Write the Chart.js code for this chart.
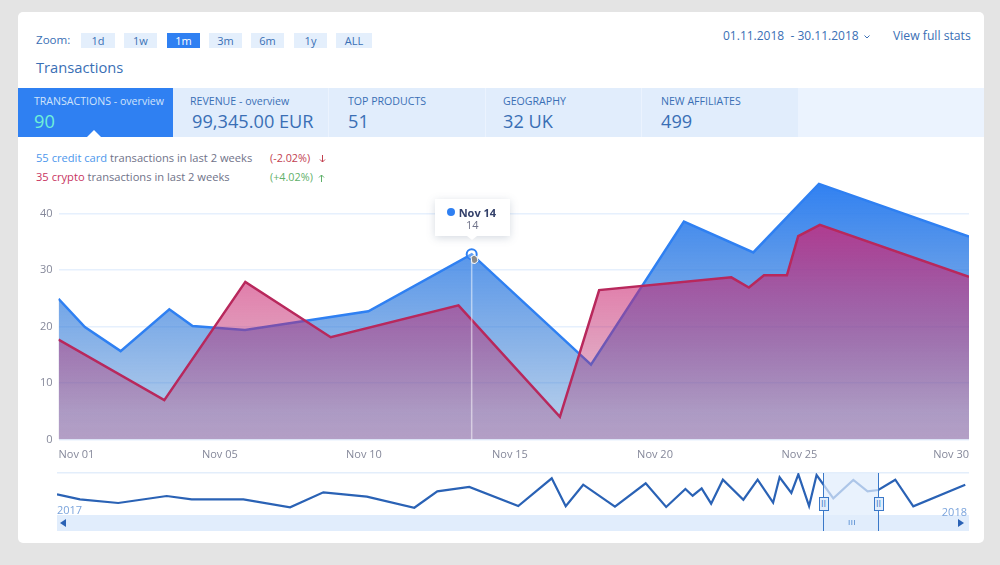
<!DOCTYPE html>
<html>
<head>
<title>Transactions</title>
<script src="https://cdn.jsdelivr.net/npm/chart.js"></script>
<style>
    html, body { margin: 0; padding: 0; background: #e4e4e4; overflow: hidden; }
    body { width: 1000px; height: 565px; position: relative; font-family: "Open Sans", sans-serif; color: #3a6fb5; }
    #card { position: absolute; left: 18px; top: 12px; width: 966px; height: 531px; background: #fff; border-radius: 5px; }
    canvas { position: absolute; }
    .t { position: absolute; white-space: nowrap; line-height: 1; transform: translateY(-50%); }
    .btn { position: absolute; top: 33px; height: 15px; line-height: 15px; background: #e4effc; text-align: center; font-size: 11px; color: #3a6fb5; }
    .btn.on { background: #2f80f2; color: #fff; }
    .tab { position: absolute; top: 88px; height: 49px; background: #e1edfc; }
    .box { position: absolute; box-sizing: border-box; }
</style>
</head>
<body>
<div id="card"></div>
<div id="top"></div>

<div class="t" style="left:36px;top:40px;font-size:11.6px">Zoom:</div>
<div class="t" style="left:36px;top:67px;font-size:14.7px">Transactions</div>
<div class="t" style="left:723px;top:36px;font-size:12px">01.11.2018 &nbsp;- 30.11.2018</div>
<svg class="box" style="left:864px;top:35px" width="6" height="4"><path d="M.5 .5 L3 3 L5.500 .5" fill="none" stroke="#3a6fb5" stroke-width="1"/></svg>
<div class="t" style="left:893px;top:36px;font-size:12.2px">View full stats</div>

<div class="box" style="left:18px;top:88px;width:966px;height:49px;background:#ebf3fe"></div>
<div id="tabs"></div>
<div class="box" style="left:87px;top:130px;width:0;height:0;border-left:7px solid transparent;border-right:7px solid transparent;border-bottom:7px solid #fff"></div>

<div class="t" style="left:36px;top:158px;font-size:11.15px;color:#6f7288"><span style="color:#4d97ec">55 credit card</span> transactions in last 2 weeks</div>
<div class="t" style="left:36px;top:177px;font-size:11.15px;color:#6f7288"><span style="color:#c8355f">35 crypto</span> transactions in last 2 weeks</div>
<div class="t" style="left:270px;top:158px;font-size:10.8px;color:#c2404f">(-2.02%)</div>
<svg class="box" style="left:319px;top:155px" width="7" height="8"><path d="M3.500 0 V7 M1 4.500 L3.500 7 L6 4.500" fill="none" stroke="#c2404f" stroke-width="1"/></svg>
<div class="t" style="left:270px;top:177px;font-size:10.8px;color:#5fb06a">(+4.02%)</div>
<svg class="box" style="left:318px;top:174px" width="7" height="8"><path d="M3.500 8 V1 M1 3.500 L3.500 1 L6 3.500" fill="none" stroke="#5fb06a" stroke-width="1"/></svg>

<canvas id="mainChart" width="966" height="303" style="left:18px;top:167px;width:966px;height:303px"></canvas>
<canvas id="overviewChart" width="966" height="70" style="left:18px;top:465px;width:966px;height:70px"></canvas>

<!-- tooltip -->
<div id="tip" class="box" style="width:75px;height:37px;background:#fff;box-shadow:0 2px 8px rgba(90,110,140,.25)">
    <div class="box" style="left:12px;top:9px;width:8px;height:8px;border-radius:50%;background:#2f80f2"></div>
    <div class="t" style="left:24px;top:13px;font-size:11px;font-weight:700;color:#33406a">Nov 14</div>
    <div class="t" style="left:0;width:75px;text-align:center;top:25px;font-size:11px;color:#6f7288">14</div>
    <div class="box" style="left:32px;top:37px;width:0;height:0;border-left:5px solid transparent;border-right:5px solid transparent;border-top:4px solid #fff"></div>
</div>
<svg class="box" style="left:469px;top:254px" width="10" height="10"><path d="M2 3 L5 1 L8 3 L9 7 L6 9.500 L3 9 Z" fill="#8a8a8a" stroke="#fff" stroke-width="1"/></svg>

<!-- navigator -->
<div class="box" style="left:57px;top:515px;width:912px;height:16px;background:#e1edfc"></div>
<div class="box" style="left:60px;top:519px;width:0;height:0;border-top:4px solid transparent;border-bottom:4px solid transparent;border-right:6px solid #2a62b5"></div>
<div class="box" style="left:958px;top:519px;width:0;height:0;border-top:4px solid transparent;border-bottom:4px solid transparent;border-left:6px solid #2a62b5"></div>
<div class="t" style="left:57px;top:509px;font-size:11px;color:#7ba4dc">2017</div>
<div class="t" style="right:33px;top:511px;font-size:11px;color:#7ba4dc">2018</div>
<div id="windowBox" class="box" style="top:473px;height:58px;background:rgba(225,237,252,.72);border-left:1px solid #3a78c8;border-right:1px solid #3a78c8"></div>
<div class="t" style="left:848px;top:522px;font-size:8px;color:#3a78c8;letter-spacing:.5px">III</div>
<div id="handleA" class="box" style="top:497px;width:10px;height:14px;background:#e1edfc;border:1px solid #3a78c8;text-align:center;line-height:12px;font-size:9px;color:#3a78c8">II</div>
<div id="handleB" class="box" style="top:497px;width:10px;height:14px;background:#e1edfc;border:1px solid #3a78c8;text-align:center;line-height:12px;font-size:9px;color:#3a78c8">II</div>

<script>
// ----------------- DATA -----------------
const buttons = ['1d', '1w', '1m', '3m', '6m', '1y', 'ALL'];
const buttonLeft = [81, 124, 167, 209, 251, 294, 336];
const buttonWidth = [34, 33, 33, 33, 33, 33, 36];

const tabTitles = ['TRANSACTIONS - overview', 'REVENUE - overview', 'TOP PRODUCTS', 'GEOGRAPHY', 'NEW AFFILIATES'];
const tabValues = ['90', '99,345.00 EUR', '51', '32 UK', '499'];
const tabLeft = [18, 173, 329, 486, 642];
const tabWidth = [154.5, 155, 156, 155, 156];
const tabTitleX = [16, 17, 19, 17, 19];
const tabValueX = [16, 19, 19, 17, 19];

// x values are days of November as placed on the picture's axis
const cardDays = [1, 1.84, 2.98, 4.53, 5.27, 6.94, 10.87, 14.16, 17.96, 20.92, 23.13, 25.22, 30];
const cardValues = [24.9, 19.9, 15.65, 23.05, 20.1, 19.4, 22.7, 32.8, 13.25, 38.55, 33.1, 45.25, 35.9];
const cryptoDays = [1, 4.37, 6.95, 9.67, 13.74, 16.97, 18.22, 22.43, 22.99, 23.47, 24.2, 24.56, 25.25, 30];
const cryptoValues = [17.7, 6.96, 27.9, 18.1, 23.75, 4.0, 26.45, 28.7, 26.9, 29.05, 29.05, 36.0, 38.0, 28.8];

const xTickDays = [1, 6.14, 10.73, 15.38, 20, 24.6, 30];
const xTickLabels = ['Nov 01', 'Nov 05', 'Nov 10', 'Nov 15', 'Nov 20', 'Nov 25', 'Nov 30'];
const yTicks = [0, 10, 20, 30, 40];
const peakIndex = 7;

const overviewDays = [0, 9.2, 24.5, 43.9, 53.9, 74.6, 93.3, 106.6, 124, 143, 152.2, 165, 184.6, 198, 203.6, 210.6, 223.3, 235.6, 243.8, 251.5, 254.4, 258, 261.8, 266.5, 274.7, 280.4, 286.6, 289.2, 293.9, 296.7, 301, 304, 310.7, 318.7, 324.4, 328.7, 335.5, 342.7, 363.5];
const overviewValues = [20.7, 15.7, 12, 19, 15.7, 15.7, 7.7, 22.7, 18.3, 7.3, 23.7, 28, 9, 36.7, 8.7, 30.3, 8.3, 31.7, 8, 26, 19.3, 26.7, 11.3, 35.3, 15.3, 35.3, 12.3, 37.7, 22, 40.7, 9, 40, 16.7, 35, 23.7, 25, 35.3, 8.7, 30.3];
const windowDays = [306.6, 329];

// ----------------- PAGE -----------------
const topBar = document.getElementById('top');
buttons.forEach((b, i) => {
    const el = document.createElement('div');
    el.className = 'btn' + (b === '1m' ? ' on' : '');
    el.style.left = buttonLeft[i] + 'px';
    el.style.width = buttonWidth[i] + 'px';
    el.textContent = b;
    topBar.appendChild(el);
});

const tabs = document.getElementById('tabs');
tabTitles.forEach((title, i) => {
    const active = i === 0;
    const el = document.createElement('div');
    el.className = 'tab';
    el.style.left = tabLeft[i] + 'px';
    el.style.width = tabWidth[i] + 'px';
    if (active) el.style.background = '#2f80f2';
    el.innerHTML =
        `<div class="t" style="left:${tabTitleX[i]}px;top:13px;font-size:10.6px;color:${active ? '#cfe3fb' : '#3a6fb5'}">${title}</div>` +
        `<div class="t" style="left:${tabValueX[i]}px;top:33px;font-size:18.2px;color:${active ? '#6ff0d8' : '#3a6fb5'}">${tabValues[i]}</div>`;
    tabs.appendChild(el);
});

// ----------------- GRADIENTS -----------------
function blueFill(context) {
    const area = context.chart.chartArea;
    if (!area) return 'rgba(47,128,242,.6)';
    const g = context.chart.ctx.createLinearGradient(0, area.top, 0, area.bottom);
    g.addColorStop(0, 'rgba(47,128,242,1)');
    g.addColorStop(0.85, 'rgba(50,120,205,.42)');
    g.addColorStop(1, 'rgba(50,120,205,.35)');
    return g;
}

function redFill(context) {
    const area = context.chart.chartArea;
    if (!area) return 'rgba(215,30,110,.5)';
    const g = context.chart.ctx.createLinearGradient(0, area.top, 0, area.bottom);
    g.addColorStop(0.15, 'rgba(215,30,110,.75)');
    g.addColorStop(0.45, 'rgba(200,35,110,.55)');
    g.addColorStop(0.9, 'rgba(170,40,100,.29)');
    g.addColorStop(1, 'rgba(170,40,100,.29)');
    return g;
}

// vertical line under the hovered point
const crosshair = {
    id: 'crosshair',
    afterDatasetsDraw(chart) {
        const { ctx, scales } = chart;
        const x = scales.x.getPixelForValue(cardDays[peakIndex]);
        ctx.save();
        ctx.strokeStyle = 'rgba(255,255,255,.5)';
        ctx.lineWidth = 1.5;
        ctx.beginPath();
        ctx.moveTo(x, scales.y.getPixelForValue(cardValues[peakIndex]) + 5);
        ctx.lineTo(x, scales.y.getPixelForValue(0));
        ctx.stroke();
        ctx.restore();
    }
};

// ----------------- MAIN CHART -----------------
const mainChart = new Chart(document.getElementById('mainChart'), {
    type: 'line',
    data: {
        datasets: [
            {
                label: 'credit card',
                data: cardDays.map((d, i) => ({ x: d, y: cardValues[i] })),
                borderColor: '#2f80f2',
                borderWidth: 2.5,
                backgroundColor: blueFill,
                fill: 'origin',
                tension: 0,
                order: 2,
                pointRadius: c => c.dataIndex === peakIndex ? 5 : 0,
                pointBorderWidth: 2,
                pointBorderColor: '#2f80f2',
                pointBackgroundColor: 'rgba(255,255,255,.25)'
            },
            {
                label: 'crypto',
                data: cryptoDays.map((d, i) => ({ x: d, y: cryptoValues[i] })),
                borderColor: '#b8285c',
                borderWidth: 2.5,
                backgroundColor: redFill,
                fill: 'origin',
                tension: 0,
                order: 1,
                pointRadius: 0
            }
        ]
    },
    options: {
        responsive: false,
        animation: false,
        events: [],
        layout: { padding: { right: 15 } },
        plugins: { legend: { display: false }, tooltip: { enabled: false } },
        scales: {
            x: {
                type: 'linear',
                min: 1,
                max: 30,
                afterBuildTicks: axis => { axis.ticks = xTickDays.map(v => ({ value: v })); },
                afterFit: axis => { axis.height = 30.5; },
                grid: { display: false, drawTicks: false },
                border: { display: false },
                ticks: {
                    align: 'inner',
                    maxRotation: 0,
                    autoSkip: false,
                    padding: 9,
                    color: '#85889a',
                    font: { family: 'Open Sans', size: 11 },
                    callback: (v, i) => xTickLabels[i]
                }
            },
            y: {
                min: 0,
                max: 46,
                afterBuildTicks: axis => { axis.ticks = yTicks.map(v => ({ value: v })); },
                afterFit: axis => { axis.width = 40.5; },
                grid: { color: '#e6f0fd', lineWidth: 1.5, drawTicks: false },
                border: { display: false },
                ticks: {
                    padding: 6,
                    color: '#85889a',
                    font: { family: 'Open Sans', size: 11 }
                }
            }
        }
    },
    plugins: [crosshair]
});

// ----------------- OVERVIEW CHART -----------------
const overviewChart = new Chart(document.getElementById('overviewChart'), {
    type: 'line',
    data: {
        datasets: [{
            data: overviewDays.map((d, i) => ({ x: d, y: overviewValues[i] })),
            borderColor: '#2a62b5',
            borderWidth: 2.2,
            tension: 0,
            pointRadius: 0,
            fill: false
        }]
    },
    options: {
        responsive: false,
        animation: false,
        events: [],
        layout: { padding: { top: 8, right: 15, bottom: 20, left: 39 } },
        plugins: { legend: { display: false }, tooltip: { enabled: false } },
        scales: {
            x: { type: 'linear', min: 0, max: 365, display: false },
            y: {
                min: 0,
                max: 42,
                afterBuildTicks: axis => { axis.ticks = [{ value: 42 }]; },
                afterFit: axis => { axis.width = 0; },
                border: { display: false },
                grid: { color: '#e3eefb', lineWidth: 1.5, drawTicks: false },
                ticks: { display: false }
            }
        }
    }
});

// ----------------- POSITION OVERLAYS FROM THE SCALES -----------------
const canvasLeft = 18, canvasTop = 167, overviewLeft = 18;
const tipX = canvasLeft + mainChart.scales.x.getPixelForValue(cardDays[peakIndex]);
const tipY = canvasTop + mainChart.scales.y.getPixelForValue(cardValues[peakIndex]);
const tip = document.getElementById('tip');
tip.style.left = (tipX - 37) + 'px';
tip.style.top = (tipY - 55) + 'px';

const winA = overviewLeft + overviewChart.scales.x.getPixelForValue(windowDays[0]);
const winB = overviewLeft + overviewChart.scales.x.getPixelForValue(windowDays[1]);
const win = document.getElementById('windowBox');
win.style.left = winA + 'px';
win.style.width = (winB - winA) + 'px';
document.getElementById('handleA').style.left = (winA - 4.5) + 'px';
document.getElementById('handleB').style.left = (winB - 5.5) + 'px';
</script>
</body>
</html>
